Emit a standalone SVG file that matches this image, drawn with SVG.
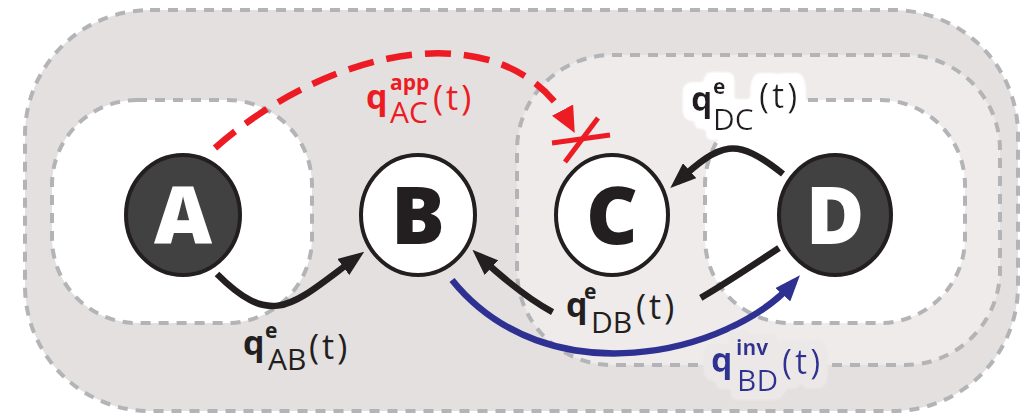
<svg xmlns="http://www.w3.org/2000/svg" width="1032" height="419" viewBox="0 0 1032 419">
  <style>
    .zone { stroke: #b2b4b7; stroke-width: 4; stroke-dasharray: 10 8; }
    .node { stroke: #231f20; stroke-width: 4; }
    .dark { fill: #414141; }
    .light { fill: #ffffff; }
    .letter { font-family: "Open Sans", "Liberation Sans", sans-serif; font-weight: 800; font-size: 80px; text-anchor: middle; }
    .lbl { font-family: "Open Sans", "Liberation Sans", sans-serif; }
    .q { font-weight: 700; font-size: 34px; }
    .sup { font-weight: 700; font-size: 21px; }
    .sub { font-weight: 400; font-size: 30px; }
    .par { font-weight: 400; font-size: 34px; letter-spacing: 3px; }
    .edge { fill: none; stroke-width: 6.5; }
  </style>
  <defs>
    <marker id="ahBlack" markerUnits="userSpaceOnUse" viewBox="0 0 26 20" markerWidth="26" markerHeight="20" refX="17" refY="10" orient="auto">
      <path d="M0,0 L26,10 L0,20 z" fill="#231f20"/>
    </marker>
    <marker id="ahBlue" markerUnits="userSpaceOnUse" viewBox="0 0 26 20" markerWidth="26" markerHeight="20" refX="17" refY="10" orient="auto">
      <path d="M0,0 L26,10 L0,20 z" fill="#2e3192"/>
    </marker>
    <marker id="ahRed" markerUnits="userSpaceOnUse" viewBox="0 0 26 24" markerWidth="26" markerHeight="24" refX="18" refY="12" orient="auto">
      <path d="M0,0 L26,12 L0,24 z" fill="#ed1c24"/>
    </marker>
    <!-- soft backing behind a label so lines and dashes underneath are hidden -->
    <filter id="haloWhite" x="-25%" y="-50%" width="150%" height="200%">
      <feMorphology in="SourceAlpha" operator="dilate" radius="9" result="grown"/>
      <feGaussianBlur in="grown" stdDeviation="2.5" result="soft"/>
      <feComponentTransfer in="soft" result="mask"><feFuncA type="linear" slope="2.5" intercept="-0.4"/></feComponentTransfer>
      <feFlood flood-color="#ffffff"/>
      <feComposite operator="in" in2="mask" result="halo"/>
      <feMerge><feMergeNode in="halo"/><feMergeNode in="SourceGraphic"/></feMerge>
    </filter>
    <filter id="haloPale" x="-25%" y="-50%" width="150%" height="200%">
      <feMorphology in="SourceAlpha" operator="dilate" radius="8" result="grown"/>
      <feGaussianBlur in="grown" stdDeviation="2.5" result="soft"/>
      <feComponentTransfer in="soft" result="mask"><feFuncA type="linear" slope="2.5" intercept="-0.4"/></feComponentTransfer>
      <feFlood flood-color="#ebe8e7"/>
      <feComposite operator="in" in2="mask" result="halo"/>
      <feMerge><feMergeNode in="halo"/><feMergeNode in="SourceGraphic"/></feMerge>
    </filter>
  </defs>

  <!-- nested regions -->
  <g id="regions">
    <rect class="zone" x="25" y="10" width="993" height="401" rx="125" fill="#e4e0df"/>
    <rect class="zone" x="517" y="55" width="483" height="310" rx="95" fill="#efebea"/>
    <rect class="zone" x="52" y="100" width="260" height="223" rx="85" fill="#ffffff"/>
    <rect class="zone" x="705" y="100" width="260" height="223" rx="85" fill="#ffffff"/>
  </g>

  <!-- connectors -->
  <g id="connectors">
    <path id="e-AB" class="edge" stroke="#231f20" d="M217,274 C273.6,330.6 293,304 357,257" marker-end="url(#ahBlack)"/>
    <path id="e-DB" class="edge" stroke="#231f20" pathLength="100" stroke-dasharray="27 46 100" d="M779,248 C642,339 598.5,367 479,256" marker-end="url(#ahBlack)"/>
    <path id="e-DC" class="edge" stroke="#231f20" d="M783,174 C735,136 721.6,142 677,182" marker-end="url(#ahBlack)"/>
    <path id="e-BD" class="edge" stroke="#2e3192" d="M452,280 C546.5,397 728.7,356 794,282" marker-end="url(#ahBlue)"/>
    <path id="e-AC" class="edge" stroke="#ed1c24" stroke-width="6" stroke-dasharray="26 13" d="M215,148 C335,42.4 509.9,11.6 571,126" marker-end="url(#ahRed)"/>
    <g id="blocked" stroke="#ed1c24" stroke-width="5">
      <line x1="552" y1="143" x2="610" y2="135"/>
      <line x1="598" y1="118" x2="565" y2="162"/>
    </g>
  </g>

  <!-- nodes -->
  <g id="node-A">
    <ellipse class="node dark" cx="183" cy="215" rx="57" ry="60"/>
    <text class="letter" x="183" y="244" fill="#ffffff">A</text>
  </g>
  <g id="node-B">
    <ellipse class="node light" cx="418" cy="215" rx="57" ry="60"/>
    <text class="letter" x="418" y="244" fill="#231f20">B</text>
  </g>
  <g id="node-C">
    <ellipse class="node light" cx="612" cy="215" rx="56" ry="60"/>
    <text class="letter" x="612" y="244" fill="#231f20">C</text>
  </g>
  <g id="node-D">
    <ellipse class="node dark" cx="835" cy="215" rx="56" ry="60"/>
    <text class="letter" x="835" y="244" fill="#ffffff">D</text>
  </g>

  <!-- rate labels -->
  <g id="labels">
    <text class="lbl" fill="#231f20"><tspan class="q" x="243" y="355">q</tspan><tspan class="sup" x="265" y="338">e</tspan><tspan class="sub" x="268" y="370">AB</tspan><tspan class="par" x="309" y="359">(t)</tspan></text>
    <text class="lbl" fill="#231f20"><tspan class="q" x="566" y="317">q</tspan><tspan class="sup" x="584" y="299">e</tspan><tspan class="sub" x="591" y="333">DB</tspan><tspan class="par" x="636" y="319">(t)</tspan></text>
    <text class="lbl" fill="#231f20" filter="url(#haloWhite)"><tspan class="q" x="691" y="111">q</tspan><tspan class="sup" x="713" y="94">e</tspan><tspan class="sub" x="713" y="130" font-size="32">DC</tspan><tspan class="par" x="759" y="108">(t)</tspan></text>
    <text class="lbl" fill="#ed1c24"><tspan class="q" x="366" y="109">q</tspan><tspan class="sup" x="390" y="90">app</tspan><tspan class="sub" x="390" y="123">AC</tspan><tspan class="par" x="433" y="110">(t)</tspan></text>
    <text class="lbl" fill="#2e3192" filter="url(#haloPale)"><tspan class="q" x="711" y="372">q</tspan><tspan class="sup" x="736" y="355">inv</tspan><tspan class="sub" x="737" y="391">BD</tspan><tspan class="par" x="782" y="374">(t)</tspan></text>
  </g>
</svg>
